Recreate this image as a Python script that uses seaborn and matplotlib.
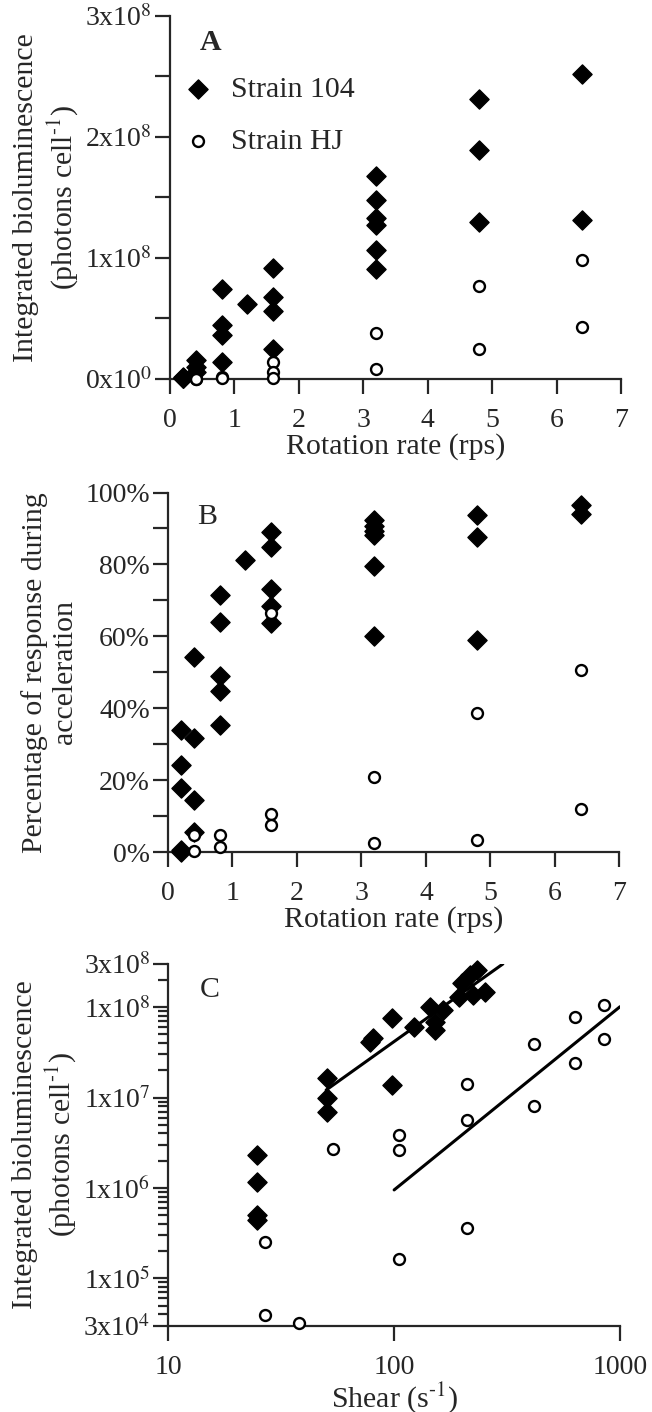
import matplotlib
matplotlib.use("Agg")
import numpy as np
import pandas as pd
import seaborn as sns
import matplotlib.pyplot as plt
from matplotlib.ticker import FixedLocator, FixedFormatter, LogLocator, NullLocator, NullFormatter

# ---- panel A: integrated bioluminescence vs rotation rate ----
a104_rate = [0.2, 0.2, 0.2, 0.2, 0.4, 0.4, 0.4, 0.8, 0.8, 0.8, 0.8, 1.2,
             1.6, 1.6, 1.6, 1.6, 3.2, 3.2, 3.2, 3.2, 3.2, 3.2, 4.8, 4.8, 4.8, 6.4, 6.4]
a104_lum = [0.02e8, 0.01e8, 0.005e8, 0.004e8, 0.16e8, 0.10e8, 0.06e8,
            0.74e8, 0.45e8, 0.36e8, 0.14e8, 0.62e8,
            0.92e8, 0.68e8, 0.56e8, 0.25e8,
            1.68e8, 1.48e8, 1.33e8, 1.27e8, 1.07e8, 0.91e8,
            2.31e8, 1.89e8, 1.30e8, 2.52e8, 1.31e8]
ahj_rate = [0.4, 0.4, 0.8, 0.8, 1.6, 1.6, 1.6, 3.2, 3.2, 4.8, 4.8, 6.4, 6.4]
ahj_lum = [0.003e8, 0.0, 0.02e8, 0.004e8, 0.143e8, 0.06e8, 0.005e8,
           0.38e8, 0.08e8, 0.77e8, 0.25e8, 0.98e8, 0.43e8]

# ---- panel B: percentage of response during acceleration ----
b104_rate = [0.2, 0.2, 0.2, 0.2, 0.2, 0.4, 0.4, 0.4, 0.4,
             0.8, 0.8, 0.8, 0.8, 0.8, 1.2, 1.6, 1.6, 1.6, 1.6, 1.6,
             3.2, 3.2, 3.2, 3.2, 3.2, 3.2, 4.8, 4.8, 4.8, 6.4, 6.4]
b104_pct = [34.0, 24.3, 17.8, 0.5, 0.0, 54.4, 31.7, 14.4, 5.5,
            71.6, 63.9, 49.1, 44.9, 35.4, 81.3, 88.9, 84.8, 73.1, 68.5, 63.7,
            92.4, 90.7, 89.2, 88.2, 79.7, 60.2, 93.8, 87.6, 58.9, 96.6, 94.1]
bhj_rate = [0.4, 0.4, 0.8, 0.8, 1.6, 1.6, 1.6, 3.2, 3.2, 4.8, 4.8, 6.4, 6.4]
bhj_pct = [4.8, 0.4, 4.8, 1.6, 66.6, 10.6, 7.6, 20.8, 2.7, 38.6, 3.4, 50.7, 11.9]

# ---- panel C: bioluminescence vs shear (log-log) ----
c104_shear = [24.8, 24.8, 24.8, 24.8, 50.2, 50.2, 50.2, 81, 78, 98, 98,
              122, 144, 165, 152, 152, 193, 199, 232, 217, 253, 224]
c104_lum = [2.3e6, 1.17e6, 5.0e5, 4.4e5, 1.63e7, 9.8e6, 7.0e6, 4.5e7, 4.1e7, 7.5e7, 1.37e7,
            6.1e7, 1.0e8, 9.3e7, 6.9e7, 5.6e7, 1.3e8, 1.83e8, 2.57e8, 2.26e8, 1.48e8, 1.36e8]
chj_shear = [26.8, 26.8, 38, 53.8, 104.6, 104.6, 104.6, 210, 210, 210,
             418, 418, 632, 632, 846, 846]
chj_lum = [2.5e5, 3.9e4, 3.2e4, 2.7e6, 3.8e6, 2.6e6, 1.64e5, 1.4e7, 5.6e6, 3.6e5,
           3.9e7, 8.1e6, 7.8e7, 2.4e7, 1.06e8, 4.4e7]
fit104_shear = [50, 303]
fit104_lum = [1.21e7, 3.0e8]
fithj_shear = [100, 1000]
fithj_lum = [9.5e5, 1.01e8]

sns.set_style("ticks")
plt.rcParams["font.family"] = ["Liberation Serif", "DejaVu Serif"]
plt.rcParams["mathtext.fontset"] = "stix"

FS = 21.5    # axis labels, legend, panel letters
TS = 20      # tick labels
fig = plt.figure(figsize=(6.52, 14.12), dpi=100)
axA = fig.add_axes([0.2607, 0.7316, 0.6917, 0.2571])
axB = fig.add_axes([0.2577, 0.3964, 0.6922, 0.2548])
axC = fig.add_axes([0.2581, 0.0612, 0.6928, 0.2561])

dia = dict(marker="D", color="black", edgecolor="black", s=95, linewidth=1, clip_on=False, zorder=3)
circ = dict(marker="o", color="white", edgecolor="black", s=62, linewidth=1.7, clip_on=False, zorder=3)

ylab_bio = "Integrated bioluminescence\n(photons cell$^{\\text{-}1}$)"


def style(ax):
    sns.despine(ax=ax)
    for s in ["left", "bottom"]:
        ax.spines[s].set_linewidth(1.6)
    ax.tick_params(which="both", direction="out", width=1.6, labelsize=TS, length=11)
    ax.tick_params(axis="y", which="both", pad=2)
    ax.tick_params(axis="x", which="both", pad=10)


# A
sns.scatterplot(x=a104_rate, y=a104_lum, ax=axA, label="Strain 104", **dia)
sns.scatterplot(x=ahj_rate, y=ahj_lum, ax=axA, label="Strain HJ", **circ)
axA.set_xlim(0, 7)
axA.set_ylim(0, 3e8)
axA.xaxis.set_major_locator(FixedLocator(range(8)))
axA.yaxis.set_major_locator(FixedLocator([0, 1e8, 2e8, 3e8]))
axA.yaxis.set_major_formatter(FixedFormatter(["0x10$^0$", "1x10$^8$", "2x10$^8$", "3x10$^8$"]))
axA.yaxis.set_minor_locator(FixedLocator([0.5e8, 1.5e8, 2.5e8]))
style(axA)
axA.set_xlabel("Rotation rate (rps)", fontsize=FS, labelpad=0)
axA.set_ylabel(ylab_bio, fontsize=FS, linespacing=1.2)
axA.yaxis.set_label_coords(-0.2, 0.5)
axA.text(0.089, 0.926, "A", transform=axA.transAxes, fontsize=FS, fontweight="bold", ha="center", va="center")
axA.legend(frameon=False, loc="upper left", bbox_to_anchor=(0.03, 0.835), fontsize=FS,
           handlelength=1.0, handletextpad=0.6, labelspacing=0.85, borderpad=0, borderaxespad=0)

# B
sns.scatterplot(x=b104_rate, y=b104_pct, ax=axB, **dia)
sns.scatterplot(x=bhj_rate, y=bhj_pct, ax=axB, **circ)
axB.set_xlim(0, 7)
axB.set_ylim(0, 100)
axB.xaxis.set_major_locator(FixedLocator(range(8)))
axB.yaxis.set_major_locator(FixedLocator([0, 20, 40, 60, 80, 100]))
axB.yaxis.set_major_formatter(FixedFormatter(["0%", "20%", "40%", "60%", "80%", "100%"]))
axB.yaxis.set_minor_locator(FixedLocator([10, 30, 50, 70, 90]))
style(axB)
axB.set_xlabel("Rotation rate (rps)", fontsize=FS, labelpad=0)
axB.set_ylabel("Percentage of response during\nacceleration", fontsize=FS, linespacing=1.2)
axB.yaxis.set_label_coords(-0.2, 0.5)
axB.text(0.086, 0.932, "B", transform=axB.transAxes, fontsize=FS, ha="center", va="center")

# C
axC.set_xscale("log")
axC.set_yscale("log")
sns.scatterplot(x=c104_shear, y=c104_lum, ax=axC, **dia)
sns.scatterplot(x=chj_shear, y=chj_lum, ax=axC, **circ)
sns.lineplot(x=fit104_shear, y=fit104_lum, ax=axC, color="black", lw=2.2)
sns.lineplot(x=fithj_shear, y=fithj_lum, ax=axC, color="black", lw=2.2)
axC.set_xlim(10, 1000)
axC.set_ylim(3e4, 3e8)
axC.xaxis.set_major_locator(FixedLocator([10, 100, 1000]))
axC.xaxis.set_major_formatter(FixedFormatter(["10", "100", "1000"]))
axC.xaxis.set_minor_locator(NullLocator())
axC.yaxis.set_major_locator(FixedLocator([3e4, 1e5, 1e6, 1e7, 1e8, 3e8]))
axC.yaxis.set_major_formatter(FixedFormatter(["3x10$^4$", "1x10$^5$", "1x10$^6$",
                                              "1x10$^7$", "1x10$^8$", "3x10$^8$"]))
axC.yaxis.set_minor_locator(LogLocator(base=10, subs=np.arange(2, 10), numticks=20))
axC.yaxis.set_minor_formatter(NullFormatter())
style(axC)
axC.tick_params(axis="y", which="minor", length=7)
axC.set_xlabel("Shear (s$^{\\text{-}1}$)", fontsize=FS, labelpad=0)
axC.set_ylabel(ylab_bio, fontsize=FS, linespacing=1.2)
axC.yaxis.set_label_coords(-0.2, 0.5)
axC.text(0.092, 0.928, "C", transform=axC.transAxes, fontsize=FS, ha="center", va="center")

fig.savefig("out.png", dpi=100)
